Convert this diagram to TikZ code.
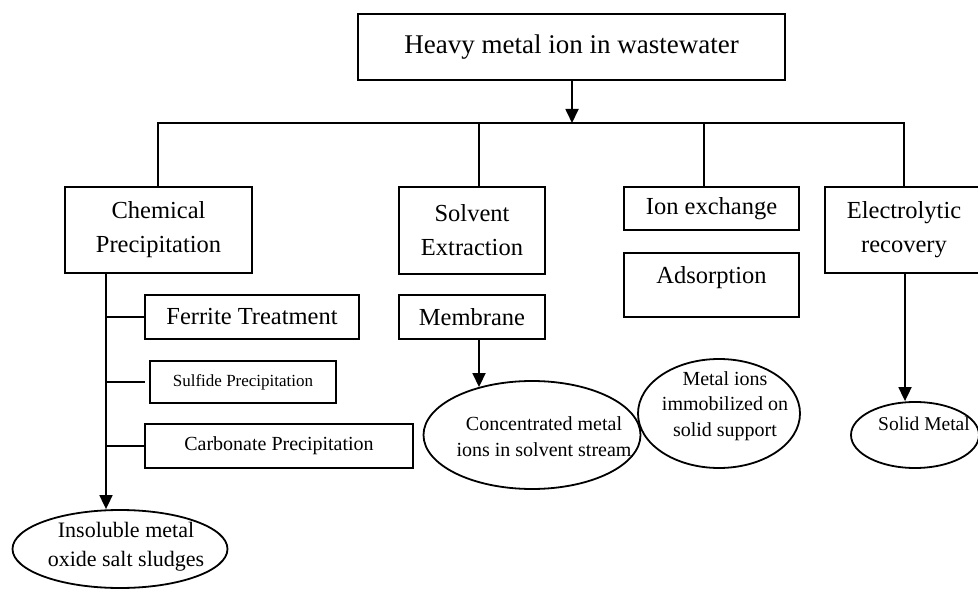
\documentclass[tikz,border=0pt]{standalone}
\usepackage{fontspec}
\setmainfont{Liberation Serif}
\usetikzlibrary{shapes.geometric,arrows.meta}
\begin{document}
\begin{tikzpicture}[x={(0.5pt,0)}, y={(0,-0.5pt)},
  ln/.style={line width=0.9pt},
  box/.style={draw, line width=0.9pt, inner sep=0pt, align=center, font=\fontsize{12.25}{17}\selectfont},
  ell/.style={draw, ellipse, line width=0.9pt, inner sep=0pt},
  arr/.style={-{Triangle[width=6.5pt,length=7pt]}},
  etxt/.style={align=center, inner sep=0pt}]
\useasboundingbox (0,0) rectangle (978,592);
% top
\node[box, minimum width=213.5pt, minimum height=33pt, font=\fontsize{13.5}{16}\selectfont] (top) at (571.5,47) {Heavy metal ion in wastewater};
% level 1
\node[box, minimum width=93.5pt, minimum height=43pt] (chem) at (158.5,230) {Chemical\\Precipitation};
\node[box, minimum width=73pt, minimum height=43.5pt] (solv) at (472,230.5) {Solvent\\Extraction};
\node[box, minimum width=87.5pt, minimum height=21.5pt] (ion) at (711.5,208.5) {Ion exchange};
\node[box, minimum width=79pt, minimum height=43pt] (elec) at (904,230) {Electrolytic\\recovery};
\node[box, minimum width=87.5pt, minimum height=32pt,
  label={[etxt, font=\fontsize{12.25}{17}\selectfont, yshift=3.5pt]center:Adsorption}] (ads) at (711.5,285) {};
% chemical sub-boxes
\node[box, minimum width=107pt, minimum height=22pt] (ferr) at (252,317) {Ferrite Treatment};
\node[box, minimum width=93pt, minimum height=21pt, font=\fontsize{8.5}{10}\selectfont] (sulf) at (243,382) {Sulfide Precipitation};
\node[box, minimum width=134pt, minimum height=22pt, font=\fontsize{10}{12}\selectfont] (carb) at (279,446) {Carbonate Precipitation};
\node[box, minimum width=73pt, minimum height=22pt] (mem) at (472,317) {Membrane};
% ellipses
\node[ell, minimum width=108.5pt, minimum height=54pt,
  label={[etxt, font=\fontsize{10}{13}\selectfont, xshift=6pt, yshift=-1pt]center:{Concentrated metal\\ions in solvent stream}}] (conc) at (532,435) {};
\node[ell, minimum width=81pt, minimum height=54.5pt,
  label={[etxt, font=\fontsize{10}{12.75}\selectfont, xshift=3pt, yshift=3.75pt]center:{Metal ions\\immobilized on\\solid support}}] (metal) at (719,413.5) {};
\node[ell, minimum width=64pt, minimum height=33pt,
  label={[etxt, font=\fontsize{9.75}{12}\selectfont, xshift=4.5pt, yshift=5.5pt]center:{Solid Metal}}] (solid) at (915,435) {};
\node[ell, minimum width=107.5pt, minimum height=39pt,
  label={[etxt, font=\fontsize{11}{14.5}\selectfont, xshift=3pt, yshift=1pt]center:{Insoluble metal\\oxide salt sludges}}] (insol) at (120,549) {};
% bus
\coordinate (bus) at (572,123);
\coordinate (b1) at (158,123);
\coordinate (b2) at (479,123);
\coordinate (b3) at (704,123);
\coordinate (b4) at (904,123);
\draw[ln, arr] (top.south -| bus) -- (bus);
\draw[ln] (b1 |- chem.north) -- (b1) -- (b4) -- (b4 |- elec.north);
\draw[ln] (b2) -- (b2 |- solv.north);
\draw[ln] (b3) -- (b3 |- ion.north);
% chemical spine
\coordinate (sx) at (106,0);
\draw[ln, arr] (chem.south -| sx) -- (sx |- insol.north);
\draw[ln] (sx |- ferr.west) -- (ferr.west);
\draw[ln, shorten >=2pt] (sx |- sulf.west) -- (sulf.west);
\draw[ln] (sx |- carb.west) -- (carb.west);
% membrane arrow
\coordinate (mx) at (479,0);
\draw[ln, arr] (mem.south -| mx) -- (mx |- conc.138.4);
% electrolytic arrow
\coordinate (ex) at (905,0);
\draw[ln, arr] (elec.south -| ex) -- (ex |- solid.north);
\end{tikzpicture}
\end{document}
